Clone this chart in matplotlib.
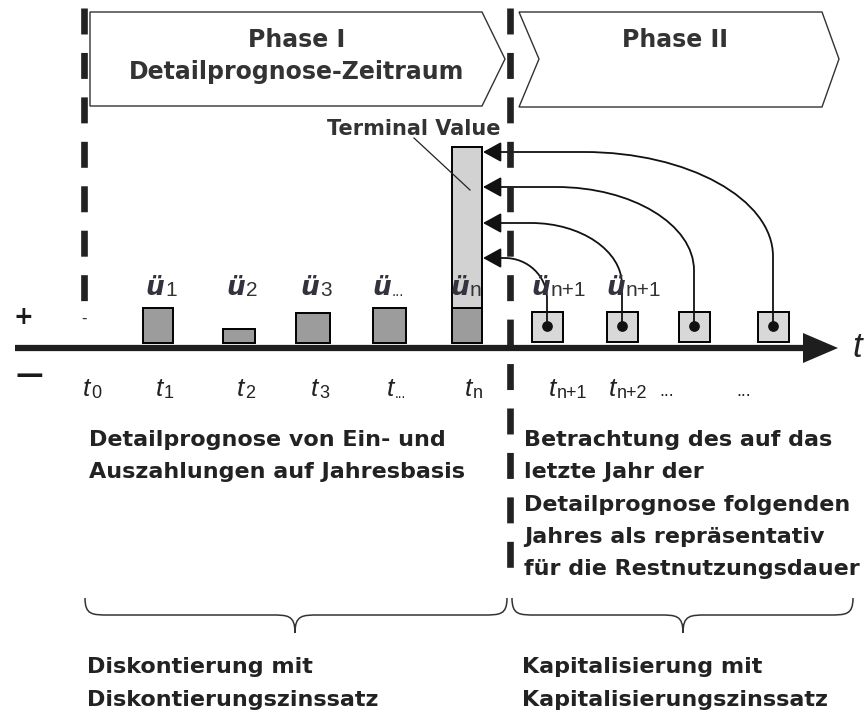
import numpy as np
import matplotlib
matplotlib.use('Agg')
import matplotlib.pyplot as plt
from matplotlib.path import Path
from matplotlib.patches import FancyArrowPatch, PathPatch, Polygon

plt.rcParams['lines.scale_dashes'] = False

# --- data -------------------------------------------------------------
# phase I: periods t0..tn and the yearly cash flows (bar heights, px units)
period_subs = ['0', '1', '2', '3', '...', 'n']
period_x = [85, 158, 239, 313, 389, 467]
flow_subs = ['1', '2', '3', '...', 'n']
cash_flows = [35, 14, 30, 35, 35]
bar_widths = [30, 32, 34, 33, 30]
terminal_value = 161

# phase II: representative years, all capitalised into the terminal value
phase2_x = [547, 622, 694, 773]
phase2_flow = [30, 30, 30, 30]
phase2_flow_subs = ['n+1', 'n+1']
tv_arrow_levels = [85, 120, 156, 191]
phase2_tick_subs = ['n+1', 'n+2']
phase2_tick_x = [556, 616]
phase2_dots_x = [667, 744]

left_text = ['Detailprognose von Ein- und', 'Auszahlungen auf Jahresbasis']
right_text = ['Betrachtung des auf das', 'letzte Jahr der',
              'Detailprognose folgenden', 'Jahres als repräsentativ',
              'für die Restnutzungsdauer']
left_bottom = ['Diskontierung mit', 'Diskontierungszinssatz']
right_bottom = ['Kapitalisierung mit', 'Kapitalisierungszinssatz']

BASE = 343      # top of time axis
DOT_Y = 326
TXT = '#222222'

fig = plt.figure(figsize=(8.67, 7.15), dpi=100)
ax = fig.add_axes([0, 0, 1, 1])
ax.set_xlim(0, 867)
ax.set_ylim(715, 0)
ax.axis('off')

# phase chevrons
ax.add_patch(Polygon([(90, 12), (482, 12), (505, 59), (482, 106), (90, 106)],
                     closed=True, fc='white', ec='#333333', lw=1.0, zorder=2))
ax.add_patch(Polygon([(519, 12), (822, 12), (839, 59), (822, 107), (519, 107), (539, 59)],
                     closed=True, fc='white', ec='#333333', lw=1.0, zorder=2))
ax.text(297, 47, 'Phase I', ha='center', va='baseline', fontsize=17,
        fontweight='bold', color='#333333')
ax.text(297, 79, 'Detailprognose-Zeitraum', ha='center', va='baseline', fontsize=17,
        fontweight='bold', color='#333333')
ax.text(675, 47, 'Phase II', ha='center', va='baseline', fontsize=17,
        fontweight='bold', color='#333333')

# dashed separators
dash = (0, (18.7, 13.3))
ax.plot([84, 84], [8, 301], color='#222222', lw=4.8, linestyle=dash, zorder=5)
ax.plot([510, 510], [8, 568], color='#222222', lw=4.8, linestyle=dash, zorder=5)

# time axis
ax.plot([15, 806], [348, 348], color='#1e1e1e', lw=4.5, solid_capstyle='butt', zorder=3)
ax.add_patch(Polygon([(803, 333), (838, 348), (803, 363)], closed=True,
                     fc='#1e1e1e', ec='none', zorder=3))
ax.text(857, 357, 't', ha='center', va='baseline', fontsize=25, style='italic',
        family='Liberation Sans', color='#222222')

# phase I bars
ax.bar(period_x[1:], [-v for v in cash_flows], width=bar_widths, bottom=BASE,
       color='#9c9c9c', edgecolor='black', linewidth=1.4, zorder=4)
ax.bar(period_x[-1], -terminal_value, width=bar_widths[-1], bottom=BASE - cash_flows[-1],
       color='#d2d2d2', edgecolor='black', linewidth=1.4, zorder=4)

# phase II boxes
ax.bar(phase2_x, [-v for v in phase2_flow], width=31, bottom=BASE - 1,
       color='#d8d8d8', edgecolor='black', linewidth=1.4, zorder=4)

# curved arrows into the terminal value
tv_right = period_x[-1] + bar_widths[-1] / 2
for cx, lvl in zip(phase2_x, tv_arrow_levels):
    ty = BASE - lvl
    dx = cx - tv_right
    dy = DOT_Y - ty
    rh, rv = 0.65 * dx, 0.6 * dy
    verts = [(cx, DOT_Y), (cx, ty + rv), (cx, ty + rv * 0.45),
             (cx - rh * 0.45, ty), (cx - rh, ty), (tv_right + 1, ty)]
    codes = [Path.MOVETO, Path.LINETO, Path.CURVE4, Path.CURVE4, Path.CURVE4, Path.LINETO]
    arr = FancyArrowPatch(path=Path(verts, codes),
                          arrowstyle='-|>,head_length=0.4,head_width=0.22',
                          mutation_scale=28, color='#111111', lw=1.3, zorder=4.5)
    ax.add_patch(arr)
ax.scatter(phase2_x, [DOT_Y] * len(phase2_x), s=45, color='#111111', zorder=6)

# flow labels ü_i
UE = dict(fontsize=19, fontweight='bold', style='italic', color='#333340', zorder=7)
for x, sub in zip(period_x[1:], flow_subs):
    j = x + (2 if sub in ('...', 'n') else 6)
    ax.text(j, 295, 'ü', ha='right', va='baseline', **UE)
    ax.text(j + 1, 296, sub, ha='left', va='baseline', fontsize=15 if sub != '...' else 11,
            family='Liberation Sans', color='#333333', zorder=7)
for x, sub in zip(phase2_x, phase2_flow_subs):
    j = x + 3
    ax.text(j, 295, 'ü', ha='right', va='baseline', **UE)
    ax.text(j + 1, 296, sub, ha='left', va='baseline', fontsize=15,
            family='Liberation Sans', color='#333333', zorder=7)

# period labels t_i
TT = dict(fontsize=19, style='italic', family='Liberation Sans', color='#222222')
for x, sub in zip(period_x, period_subs):
    j = x + 5
    ax.text(j, 396, 't', ha='right', va='baseline', **TT)
    ax.text(j + 1, 398, sub, ha='left', va='baseline', fontsize=13 if sub != '...' else 10,
            family='Liberation Sans', color='#222222')
for x, sub in zip(phase2_tick_x, phase2_tick_subs):
    ax.text(x, 396, 't', ha='right', va='baseline', **TT)
    ax.text(x + 1, 398, sub, ha='left', va='baseline', fontsize=13,
            family='Liberation Sans', color='#222222')
for x in phase2_dots_x:
    ax.text(x, 396, '...', ha='center', va='baseline', fontsize=13,
            family='Liberation Sans', color='#222222')

# signs
ax.text(23, 324, '+', ha='center', va='baseline', fontsize=17, fontweight='bold', color='#1a1a1a')
ax.text(29, 383, '—', ha='center', va='baseline', fontsize=20, fontweight='bold', color='#1a1a1a')
ax.text(84, 323, '-', ha='center', va='baseline', fontsize=11, color='#333333')

# terminal value label
ax.text(414, 135, 'Terminal Value', ha='center', va='baseline', fontsize=15,
        fontweight='bold', color='#333333', zorder=7)
ax.plot([414, 470], [138, 190], color='#222222', lw=0.9, zorder=6)

# explanatory texts
for i, s in enumerate(left_text):
    ax.text(89, 446 + 32 * i, s, ha='left', va='baseline', fontsize=16,
            fontweight='bold', color=TXT)
for i, s in enumerate(right_text):
    ax.text(524, 446 + 32.3 * i, s, ha='left', va='baseline', fontsize=16,
            fontweight='bold', color=TXT)
for i, s in enumerate(left_bottom):
    ax.text(87, 673 + 33 * i, s, ha='left', va='baseline', fontsize=16,
            fontweight='bold', color=TXT)
for i, s in enumerate(right_bottom):
    ax.text(522, 673 + 33 * i, s, ha='left', va='baseline', fontsize=16,
            fontweight='bold', color=TXT)


# curly braces
def brace(x0, x1, xm, y_end=598, y_flat=615, y_tip=633, r=24):
    verts = [(x0, y_end), (x0, y_flat), (x0 + r * 0.3, y_flat), (x0 + r, y_flat),
             (xm - r, y_flat),
             (xm - r * 0.3, y_flat), (xm, y_flat), (xm, y_tip),
             (xm, y_flat), (xm + r * 0.3, y_flat), (xm + r, y_flat),
             (x1 - r, y_flat),
             (x1 - r * 0.3, y_flat), (x1, y_flat), (x1, y_end)]
    codes = [Path.MOVETO, Path.CURVE4, Path.CURVE4, Path.CURVE4,
             Path.LINETO,
             Path.CURVE4, Path.CURVE4, Path.CURVE4,
             Path.CURVE4, Path.CURVE4, Path.CURVE4,
             Path.LINETO,
             Path.CURVE4, Path.CURVE4, Path.CURVE4]
    ax.add_patch(PathPatch(Path(verts, codes), fc='none', ec='#333333', lw=1.1))


brace(85, 507, 295)
brace(512, 853, 683)

fig.savefig('out.png', dpi=100)
